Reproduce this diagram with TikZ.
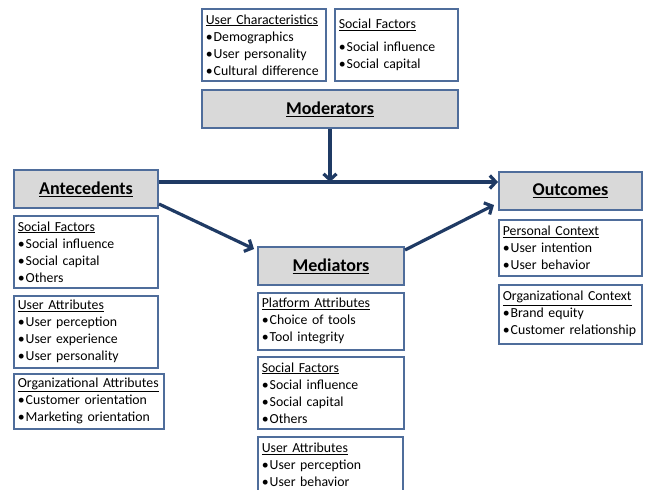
\documentclass[tikz,border=0pt]{standalone}
\usepackage{fontspec}
\setmainfont{Carlito}
\usetikzlibrary{arrows.meta}
\definecolor{boxblue}{HTML}{4F6D9B}
\definecolor{arrowblue}{HTML}{1F3A64}
\definecolor{titlegray}{HTML}{D9D9D9}
\newcommand\bul{\textbullet\kern1pt}

\begin{document}
\begin{tikzpicture}[x=1pt,y=-1pt,
  listbox/.style={draw=boxblue, line width=1.6pt, anchor=north west, align=left,
    inner xsep=4pt, inner ysep=0pt, font=\fontsize{13.8}{17}\selectfont},
  titlebox/.style={draw=boxblue, fill=titlegray, line width=2pt, anchor=north west,
    inner sep=0pt, minimum height=38pt, font=\fontsize{18}{20}\selectfont\bfseries},
  flow/.style={draw=arrowblue, line width=3.2pt, -{Straight Barb[length=6pt,width=13pt]}}]
  \useasboundingbox (0,0) rectangle (646,490);

  % Moderators
  \node[listbox, text width=116pt, minimum height=72pt] (modchar) at (201,8)
    {\underline{User Characteristics}\\ \bul Demographics\\ \bul User personality\\ \bul Cultural difference};
  \node[listbox, text width=115pt, minimum height=72pt] (modsoc) at (334,8)
    {\underline{Social Factors}\\[6pt] \bul Social influence\\ \bul Social capital};
  \node[titlebox, minimum width=256pt] (moder) at (201,89) {\underline{Moderators}};

  % Antecedents
  \node[titlebox, minimum width=144pt] (ante) at (13,169) {\underline{Antecedents}};
  \node[listbox, text width=136pt, minimum height=72pt] (antesoc) at (13,215)
    {\underline{Social Factors}\\ \bul Social influence\\ \bul Social capital\\ \bul Others};
  \node[listbox, text width=136pt, minimum height=72pt] (anteuser) at (13,295)
    {\underline{User Attributes}\\ \bul User perception\\ \bul User experience\\ \bul User personality};
  \node[listbox, text width=142pt, minimum height=55pt] (anteorg) at (13,373)
    {\underline{Organizational Attributes}\\ \bul Customer orientation\\ \bul Marketing orientation};

  % Mediators
  \node[titlebox, minimum width=146pt] (medi) at (257,246) {\underline{Mediators}};
  \node[listbox, text width=138pt, minimum height=57pt] (mediplat) at (257,292)
    {\underline{Platform Attributes}\\ \bul Choice of tools\\ \bul Tool integrity};
  \node[listbox, text width=138pt, minimum height=72pt] (medisoc) at (257,356)
    {\underline{Social Factors}\\ \bul Social influence\\ \bul Social capital\\ \bul Others};
  \node[listbox, text width=137pt, minimum height=56pt] (mediuser) at (257,436)
    {\underline{User Attributes}\\ \bul User perception\\ \bul User behavior};

  % Outcomes
  \node[titlebox, minimum width=143pt] (outc) at (498,171) {\underline{Outcomes}};
  \node[listbox, text width=135pt, minimum height=56pt] (outcpers) at (498,219)
    {\underline{Personal Context}\\ \bul User intention\\ \bul User behavior};
  \node[listbox, text width=135pt, minimum height=59pt] (outcorg) at (498,284)
    {\underline{Organizational Context}\\ \bul Brand equity\\ \bul Customer relationship};

  % Pfeile
  \coordinate (mainline) at (0,182);
  \draw[flow] (ante.east |- mainline) -- (outc.west |- mainline);
  \draw[flow] (moder.south) -- (moder.south |- mainline);
  \draw[flow] ([yshift=5pt]ante.south east) -- ([xshift=-3pt,yshift=-3pt]medi.north west);
  \draw[flow] ([yshift=-4pt]medi.north east) -- ([xshift=-4pt,yshift=6pt]outc.south west);
\end{tikzpicture}
\end{document}
